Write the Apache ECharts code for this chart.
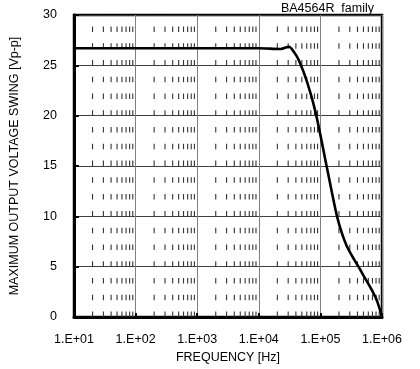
<!DOCTYPE html>
<html><head><meta charset="utf-8">
<script src="https://cdn.jsdelivr.net/npm/echarts@6/dist/echarts.min.js"></script>
<style>html,body{margin:0;padding:0;background:#fff}#c{width:420px;height:369px}</style>
</head><body><div id="c"></div>
<script>
const titleText = 'BA4564R  family';
const xName = 'FREQUENCY [Hz]';
const yName = 'MAXIMUM OUTPUT VOLTAGE SWING [Vp-p]';
const freqs = [10, 100, 1000, 10000, 22600, 30800, 37000, 44700, 61100, 83000, 128000, 154600, 186000, 224000, 270000, 334000, 415000, 532000, 682000, 830000, 1000000];
const swing = [26.7, 26.7, 26.7, 26.7, 26.62, 26.85, 26.35, 25.5, 23.3, 20.4, 14.8, 12.3, 10.0, 8.3, 7.0, 5.96, 5.0, 3.84, 2.7, 1.6, 0.0];
const decades = [10, 100, 1000, 10000, 100000];
const minorMult = [2, 3, 4, 5, 6, 7, 8, 9];
const yMin = 0, yMax = 30, yStep = 5;

const minorFreqs = [];
decades.forEach(d => minorMult.forEach(m => minorFreqs.push(d * m)));
const curve = freqs.map((f, i) => [f, swing[i]]);

const chart = echarts.init(document.getElementById('c'), null, {renderer: 'canvas'});
const font = 'Arial, "Liberation Sans", sans-serif';
chart.setOption({
  animation: false,
  title: {text: titleText, right: 41, top: -3, textStyle: {fontSize: 12.5, fontWeight: 'normal', color: '#000', fontFamily: font}},
  grid: {left: 72, right: 38, top: 15, bottom: 52, show: true, borderColor: '#000', borderWidth: 2.5, backgroundColor: 'transparent'},
  xAxis: {
    type: 'log', logBase: 10, min: 10, max: 1000000,
    name: xName, nameLocation: 'middle', nameGap: 31,
    nameTextStyle: {fontSize: 12.5, color: '#000', fontFamily: font},
    axisLine: {lineStyle: {color: '#000', width: 3}},
    axisTick: {show: true, inside: true, length: 4, lineStyle: {color: '#000', width: 2}},
    axisLabel: {fontSize: 12.5, color: '#000', fontFamily: font, margin: 16,
      formatter: v => '1.E+' + String(Math.round(Math.log10(v))).padStart(2, '0')},
    splitLine: {show: true, lineStyle: {color: '#808080', width: 1}},
    minorTick: {show: false}, minorSplitLine: {show: false}
  },
  yAxis: {
    type: 'value', min: yMin, max: yMax, interval: yStep,
    name: yName, nameLocation: 'middle', nameGap: 53,
    nameTextStyle: {fontSize: 12.5, color: '#000', fontFamily: font},
    axisLine: {show: true, lineStyle: {color: '#000', width: 3}},
    axisTick: {show: true, inside: true, length: 5, lineStyle: {color: '#000', width: 2}},
    axisLabel: {fontSize: 12.5, color: '#000', fontFamily: font, margin: 17},
    splitLine: {show: true, lineStyle: {color: '#404040', width: 1}}
  },
  series: [
    {
      type: 'custom', silent: true, z: 1,
      data: minorFreqs.map(f => [f]),
      renderItem: (params, api) => {
        const p0 = api.coord([api.value(0), yMin]);
        const p1 = api.coord([api.value(0), yMax]);
        return {type: 'line', shape: {x1: p0[0], y1: p0[1], x2: p1[0], y2: p1[1]},
          style: {stroke: '#333', lineWidth: 1.1, lineDash: [5.5, 11.27], lineDashOffset: 0}};
      }
    },
    {
      type: 'line', data: curve, smooth: 0.3, showSymbol: false, z: 5,
      lineStyle: {color: '#000', width: 2.6}
    }
  ]
});
</script></body></html>
